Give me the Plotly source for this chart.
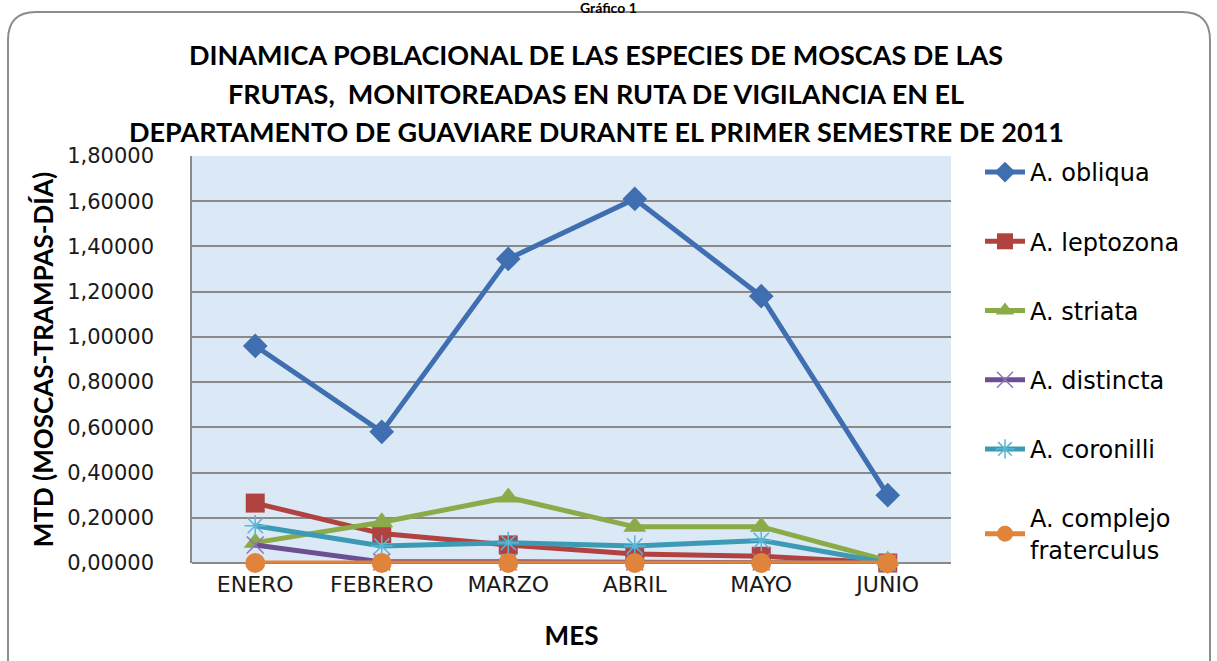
import plotly.graph_objects as go

meses = ["ENERO", "FEBRERO", "MARZO", "ABRIL", "MAYO", "JUNIO"]
obliqua = [0.96, 0.58, 1.345, 1.61, 1.18, 0.30]
leptozona = [0.265, 0.13, 0.08, 0.04, 0.03, 0.0]
striata = [0.09, 0.18, 0.29, 0.16, 0.16, 0.01]
distincta = [0.08, 0.005, 0.005, 0.005, 0.005, 0.0]
coronilli = [0.165, 0.075, 0.09, 0.075, 0.10, 0.0]
fraterculus = [0.0, 0.0, 0.0, 0.0, 0.0, 0.0]
y_ticks = [0, 0.2, 0.4, 0.6, 0.8, 1.0, 1.2, 1.4, 1.6, 1.8]

series = [
    ("A. obliqua", obliqua, "#3f6fb0", "diamond", 19),
    ("A. leptozona", leptozona, "#b0433f", "square", 19),
    ("A. striata", striata, "#8aab48", "triangle-up", 20),
    ("A. distincta", distincta, "#6c4f92", "x-thin", 17),
    ("A. coronilli", coronilli, "#3d9ab4", "asterisk-open", 18),
    ("A. complejo<br>fraterculus", fraterculus, "#e0843c", "circle", 20),
]

fig = go.Figure()
for i, (name, vals, col, sym, sz) in enumerate(series):
    thin = sym in ("x-thin", "asterisk-open")
    mcol = "#5bb6d6" if sym == "asterisk-open" else ("#8f74b8" if sym == "x-thin" else col)
    fig.add_trace(go.Scatter(
        x=meses, y=vals, name=name, mode="lines+markers",
        legendgroup=f"g{i}",
        line=dict(color=col, width=5),
        marker=dict(symbol=sym, size=sz, color=mcol,
                    line=dict(color=mcol, width=1.5 if thin else 0)),
        cliponaxis=False,
    ))

L, R, T, B = 192, 951, 156, 563
W, H = 1217, 661
def px(x):
    return (x - L) / (R - L)
def py(y):
    return (B - y) / (B - T)

# rounded outer border
x0, x1, y0, y1, r = 8, 1210, 12, 700, 28
path = (f"M {px(x0)},{py(y1)} L {px(x0)},{py(y0 + r)} "
        f"Q {px(x0)},{py(y0)} {px(x0 + r)},{py(y0)} "
        f"L {px(x1 - r)},{py(y0)} Q {px(x1)},{py(y0)} {px(x1)},{py(y0 + r)} "
        f"L {px(x1)},{py(y1)}")

title_lines = [
    "DINAMICA POBLACIONAL DE LAS ESPECIES DE MOSCAS DE LAS",
    "FRUTAS,  MONITOREADAS EN RUTA DE VIGILANCIA EN EL",
    "DEPARTAMENTO DE GUAVIARE DURANTE EL PRIMER SEMESTRE DE 2011",
]
annotations = []
for k, t in enumerate(title_lines):
    annotations.append(dict(
        text=f"<b>{t}</b>", x=px(596), y=py(55 + 38.5 * k), xref="paper", yref="paper",
        showarrow=False, font=dict(family="Lato, Liberation Sans", size=27, color="#000000"),
        xanchor="center", yanchor="middle"))
annotations.append(dict(
    text="<b>Gráfico 1</b>", x=px(608), y=py(7), xref="paper", yref="paper",
    showarrow=False, font=dict(family="Lato, Liberation Sans", size=14, color="#000000"),
    xanchor="center", yanchor="middle"))

fig.update_layout(
    width=W, height=H,
    margin=dict(l=L, r=W - R, t=T, b=H - B, autoexpand=False),
    paper_bgcolor="white",
    plot_bgcolor="#dbe8f6",
    separators=",.",
    font=dict(family="DejaVu Sans", size=22, color="#000000"),
    showlegend=True,
    legend=dict(x=px(980), y=py(150), xanchor="left", yanchor="top",
                font=dict(family="DejaVu Sans", size=24, color="#000000"), tracegroupgap=35,
                bgcolor="rgba(0,0,0,0)", itemwidth=40, maxheight=640),
    xaxis=dict(
        type="category", showgrid=False, showline=False, ticks="",
        tickfont=dict(family="DejaVu Sans", size=22, color="#1a1a1a"),
        ticklabelstandoff=6,
        title=dict(text="<b>MES</b>", font=dict(family="Lato, Liberation Sans", size=26), standoff=30),
        range=[-0.5, 5.5],
    ),
    yaxis=dict(
        range=[0, 1.8], tickvals=y_ticks, tickformat=".5f",
        showgrid=True, gridcolor="#8a8a8a", gridwidth=1.5,
        showline=True, linecolor="#8a8a8a", linewidth=1.5,
        zeroline=True, zerolinecolor="#8a8a8a", zerolinewidth=2,
        ticks="", ticklen=0, ticklabelstandoff=32,
        tickfont=dict(family="DejaVu Sans", size=21, color="#1a1a1a"),
        title=dict(text="<b>MTD (MOSCAS-TRAMPAS-DÍA)</b>",
                   font=dict(family="Lato, Liberation Sans", size=26), standoff=6),
    ),
    shapes=[dict(type="path", path=path, xref="paper", yref="paper",
                 line=dict(color="#8c8c8c", width=2), layer="below")],
    annotations=annotations,
)

fig.write_html("out.html", config={"displayModeBar": False},
               post_script="document.body.style.margin='0';")
